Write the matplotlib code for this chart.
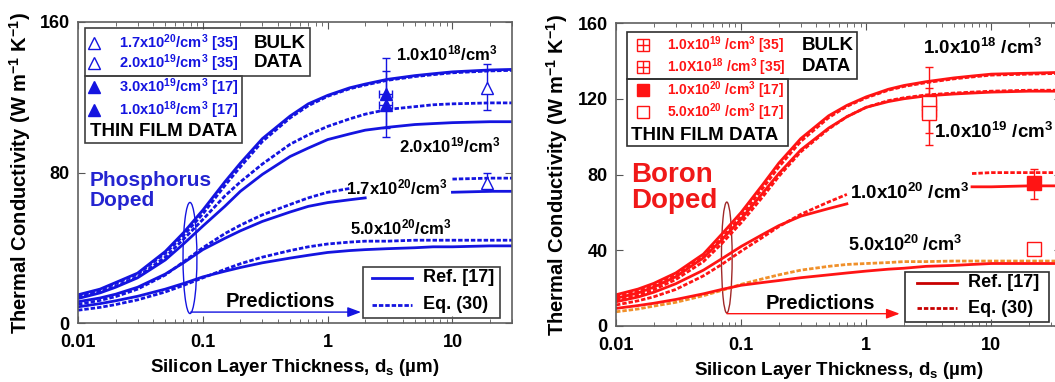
import numpy as np
import matplotlib.pyplot as plt
from matplotlib.patches import Rectangle, Ellipse
from matplotlib.lines import Line2D

plt.rcParams['font.family'] = ['Liberation Sans', 'DejaVu Sans']
plt.rcParams['font.weight'] = 'bold'
plt.rcParams['axes.labelweight'] = 'bold'
plt.rcParams['mathtext.fontset'] = 'custom'
plt.rcParams['mathtext.bf'] = 'Liberation Sans:bold'
plt.rcParams['mathtext.rm'] = 'Liberation Sans:bold'
plt.rcParams['mathtext.default'] = 'bf'

nan = np.nan
# thickness grid (um)
xs = [0.01, 0.015, 0.02, 0.03, 0.05, 0.07, 0.1, 0.15, 0.2, 0.3, 0.5, 0.7,
      1, 1.5, 2, 3, 5, 7, 10, 20, 40]

# Phosphorus doped curves (W/m/K)
p18_ref = [15, 18, 21.5, 26.5, 38, 48, 60, 75, 85, 98, 110, 116.5, 121, 125, 127, 129.5, 131.5, 132.5, 133.5, 134.5, 135]
p18_eq = [14.5, 17.5, 21, 26, 37, 46.5, 58, 73, 83, 96.5, 109, 115.5, 120.5, 124.5, 126.5, 129, 131, 132, 133, 134, 134.5]
p19_eq = [13.5, 16.5, 19.5, 24.5, 35, 44.5, 55, 67.5, 75, 84.5, 95, 100, 104.5, 108.5, 111, 113.5, 115, 116, 116.5, 117, 117]
p19_ref = [13, 16, 19, 24, 33.5, 42, 51.5, 62, 70, 79, 88.5, 93, 97.5, 100.5, 102.5, 104, 105.5, 106, 106.5, 107, 107]
p170_eq = [10, 12, 14, 18, 25.5, 32.5, 40, 47.5, 52, 57.5, 63, 66.5, 69.5, 71.5, nan, nan, nan, nan, 76.5, 77, 77]
p170_ref = [11.3, 13.3, 15.3, 19, 26, 32, 39, 45, 49, 54, 59, 62, 64, 65.5, 66.5, nan, nan, nan, 69.5, 70, 70]
p500_ref = [8.6, 10.3, 11.8, 14.2, 18, 21, 24.5, 27.5, 29.5, 32, 34.5, 36, 37.5, 38.5, 39, 39.5, 40, 40.5, 40.5, 41, 41]
p500_eq = [6.8, 8.3, 9.8, 12.3, 16.5, 20, 24, 28.5, 31.5, 35, 38.5, 40.5, 42, 43, 43.5, 43.5, 44, 44, 44, 44, 44]

# Boron doped curves
b18_ref = [16.5, 19.5, 22.5, 28, 38, 48.5, 60, 75, 86, 99, 111, 116.5, 121, 125, 127, 129, 131, 132, 133, 133.5, 134]
b18_eq = [15.5, 18.5, 21.5, 27, 36.5, 46.5, 58, 73, 84, 97.5, 110, 116, 120.5, 124.5, 126.5, 128.5, 130.5, 131.5, 132.5, 133, 133.5]
b19_ref = [14.6, 17.5, 20.5, 26, 36, 45.5, 56.5, 70.5, 80.5, 93, 104.5, 110.5, 115.5, 118.5, 120, 121.5, 122.5, 123, 123.5, 124, 124]
b19_eq = [13.5, 16.3, 19.2, 24.5, 34, 43.5, 54.5, 68.5, 79, 92, 104, 110.5, 115.5, 119, 120.5, 122, 123, 123.5, 124, 124.5, 124.5]
b20_ref = [12.8, 15.3, 17.8, 22.3, 29.5, 35.5, 42, 48.5, 53, 58, 62, 64.5, nan, nan, nan, nan, nan, 73.5, 73.5, 74, 74]
b20_eq = [11.1, 13.3, 15.4, 19.3, 26.5, 32.5, 39.5, 47, 52.5, 59, 65.5, 69.5, nan, nan, nan, nan, nan, 80.5, 81, 81, 81]
b500_ref = [9.3, 10.8, 12, 14, 17, 19.3, 21.5, 23, 24, 25.5, 27, 28, 29, 30, 30.5, 31.5, 32, 32.5, 33, 33, 33]
b500_eq = [7.5, 9, 10.5, 12.5, 16, 18.8, 22, 25, 27, 29.5, 31.5, 32.5, 33, 33.5, 34, 34, 34.3, 34.3, 34.3, 34.3, 34.3]

# measured points
p_film_x = [2.95, 2.95]
p_film_y = [121.8, 116]
p_film_err = [[18.3, 17.3], [19.2, 17.7]]
p_bulk_x = [19, 19]
p_bulk_y = [124.8, 74.3]
p_bulk_err = [[11.8, 4.1], [13, 5.7]]
b_bulk_x = [3.2, 3.2]
b_bulk_y = [118, 112.4]
b_bulk_err = [[16, 17], [19, 13.2]]
b_film_x = [22, 22]
b_film_y = [75.5, 40.6]
b_film_err = [[8.5, 0], [7.3, 0]]

p_legend = [r"1.7x10$^{20}$/cm$^3$ [35]", r"2.0x10$^{19}$/cm$^3$ [35]",
            r"3.0x10$^{19}$/cm$^3$ [17]", r"1.0x10$^{18}$/cm$^3$ [17]"]
b_legend = [r"1.0x10$^{19}$ /cm$^3$ [35]", r"1.0X10$^{18}$ /cm$^3$ [35]",
            r"1.0x10$^{20}$ /cm$^3$ [17]", r"5.0x10$^{20}$ /cm$^3$ [17]"]

blue = '#1414e0'
red = '#ff1414'
dred = '#c80000'
orange = '#f0902a'
dash = (0, (1.6, 0.7))

fig = plt.figure(figsize=(10.55, 3.82), dpi=100)
ax1 = fig.add_axes([78 / 1055, 59 / 382, 434 / 1055, 301 / 382])
ax2 = fig.add_axes([616 / 1055, 56 / 382, 445 / 1055, 303 / 382])


def style_axes(ax, xmax, yticks):
    ax.set_xscale('log')
    ax.set_xlim(0.01, xmax)
    ax.set_ylim(0, 160)
    ax.set_yticks(yticks)
    ax.set_xticks([0.01, 0.1, 1, 10])
    ax.set_xticklabels(['0.01', '0.1', '1', '10'])
    ax.tick_params(which='both', direction='in', top=True, right=True,
                   labelsize=13, colors='#555555', labelcolor='black')
    ax.tick_params(axis='x', pad=8)
    ax.tick_params(axis='y', pad=6)
    ax.tick_params(which='major', length=5)
    ax.tick_params(which='minor', length=3)
    for s in ax.spines.values():
        s.set_color('#606060')
        s.set_linewidth(1.2)
    ax.set_xlabel(r"Silicon Layer Thickness, d$_{\mathbf{s}}$ (µm)", fontsize=13.5)
    ax.set_ylabel(r"Thermal Conductivity (W m$^{\mathbf{-1}}$ K$^{\mathbf{-1}}$)", fontsize=14.5)
    ax.xaxis.set_label_coords(0.5, -0.112)
    ax.yaxis.set_label_coords(-0.104, 0.5)


# ---- Phosphorus panel
ax = ax1
style_axes(ax, 30, [0, 80, 160])
for ys, ls in [(p18_ref, '-'), (p18_eq, dash), (p19_eq, dash), (p19_ref, '-'),
               (p170_eq, dash), (p170_ref, '-'), (p500_ref, '-'), (p500_eq, dash)]:
    ax.plot(xs, ys, color=blue, lw=2, linestyle=ls)
ax.errorbar(p_film_x, p_film_y, yerr=p_film_err, xerr=0.35, fmt='^', ms=9,
            color=blue, mfc=blue, ecolor=blue, elinewidth=1, capsize=3)
ax.errorbar(p_bulk_x, p_bulk_y, yerr=p_bulk_err, fmt='^', ms=9,
            color=blue, mfc='white', ecolor=blue, elinewidth=1, capsize=3)

ax.text(3.5, 143.5, r"1.0x10$^{18}$/cm$^3$", fontsize=12, va='center')
ax.text(3.7, 94.6, r"2.0x10$^{19}$/cm$^3$", fontsize=12, va='center')
ax.text(1.4, 71.8, r"1.7x10$^{20}$/cm$^3$", fontsize=12, va='center')
ax.text(1.5, 51, r"5.0x10$^{20}$/cm$^3$", fontsize=12, va='center')
ax.text(0.0125, 70.5, "Phosphorus\nDoped", fontsize=15, color='#2424d0',
        va='center', linespacing=1.1)
ax.text(0.153, 11.5, "Predictions", fontsize=14.5, va='center')
ax.add_patch(Ellipse((0.258, 0.216), 0.032, 0.369, transform=ax.transAxes,
                     fill=False, ec=blue, lw=1))
ax.annotate('', xy=(1.85, 5.8), xytext=(0.08, 5.8),
            arrowprops=dict(arrowstyle='-|>,head_length=0.8,head_width=0.3',
                            color=blue, lw=1, shrinkA=0, shrinkB=0))

# top-left data key
ax.add_patch(Rectangle((0.016, 0.821), 0.519, 0.159, transform=ax.transAxes,
                       fill=False, ec='#404040', lw=1.2, zorder=5))
ax.add_patch(Rectangle((0.016, 0.598), 0.362, 0.223, transform=ax.transAxes,
                       fill=False, ec='#404040', lw=1.2, zorder=5))
rows = [0.930, 0.864, 0.784, 0.708]
for i, (lab, yy) in enumerate(zip(p_legend, rows)):
    ax.plot([0.037], [yy], marker='^', ms=8, color=blue,
            mfc='white' if i < 2 else blue, transform=ax.transAxes, clip_on=False)
    ax.text(0.094, yy, lab, fontsize=10.5, color=blue, va='center', transform=ax.transAxes)
ax.text(0.405, 0.930, "BULK", fontsize=13.5, va='center', transform=ax.transAxes)
ax.text(0.405, 0.864, "DATA", fontsize=13.5, va='center', transform=ax.transAxes)
ax.text(0.028, 0.635, "THIN FILM DATA", fontsize=13.5, va='center', transform=ax.transAxes)

# bottom-right line key
ax.add_patch(Rectangle((0.657, 0.017), 0.315, 0.169, transform=ax.transAxes,
                       fill=False, ec='#404040', lw=1.2))
ax.add_line(Line2D([0.677, 0.770], [0.150, 0.150], color=blue, lw=2, transform=ax.transAxes))
ax.add_line(Line2D([0.677, 0.770], [0.060, 0.060], color=blue, lw=2, linestyle=dash,
                   transform=ax.transAxes))
ax.text(0.795, 0.150, "Ref. [17]", fontsize=13, va='center', transform=ax.transAxes)
ax.text(0.795, 0.060, "Eq. (30)", fontsize=13, va='center', transform=ax.transAxes)

# ---- Boron panel
ax = ax2
style_axes(ax, 36, [0, 40, 80, 120, 160])
for ys, ls, c in [(b18_ref, '-', red), (b18_eq, dash, red), (b19_ref, '-', red),
                  (b19_eq, dash, red), (b20_ref, '-', red), (b20_eq, dash, red),
                  (b500_eq, dash, orange), (b500_ref, '-', red)]:
    ax.plot(xs, ys, color=c, lw=2, linestyle=ls)
ax.errorbar(b_bulk_x, b_bulk_y, yerr=b_bulk_err, xerr=0.4, fmt='s', ms=10,
            color=red, mfc='white', ecolor=red, elinewidth=1, capsize=3)
ax.plot(b_bulk_x, b_bulk_y, '+', ms=10, color=red, mew=1)
ax.errorbar(b_film_x[:1], b_film_y[:1], yerr=[b_film_err[0][:1], b_film_err[1][:1]],
            fmt='s', ms=10, color=red, mfc=red, ecolor=red, elinewidth=1, capsize=3)
ax.plot(b_film_x[1:], b_film_y[1:], 's', ms=10, color=red, mfc='white')

ax.text(2.85, 146.8, r"1.0x10$^{18}$ /cm$^3$", fontsize=13.5, va='center')
ax.text(3.45, 102.4, r"1.0x10$^{19}$ /cm$^3$", fontsize=13.5, va='center')
ax.text(0.74, 70.2, r"1.0x10$^{20}$ /cm$^3$", fontsize=13.5, va='center')
ax.text(0.72, 42.8, r"5.0x10$^{20}$ /cm$^3$", fontsize=13, va='center')
ax.text(0.0132, 73, "Boron\nDoped", fontsize=20, color='#f01818',
        va='center', linespacing=1.0)
ax.text(0.158, 12.1, "Predictions", fontsize=14.5, va='center')
ax.add_patch(Ellipse((0.249, 0.226), 0.024, 0.366, transform=ax.transAxes,
                     fill=False, ec='#a02828', lw=1))
ax.annotate('', xy=(1.85, 6.5), xytext=(0.077, 6.5),
            arrowprops=dict(arrowstyle='-|>,head_length=0.8,head_width=0.3',
                            color=red, lw=1, shrinkA=0, shrinkB=0))

ax.add_patch(Rectangle((0.025, 0.815), 0.517, 0.155, transform=ax.transAxes,
                       fill=False, ec='#303030', lw=1.2, zorder=5))
ax.add_patch(Rectangle((0.025, 0.594), 0.362, 0.221, transform=ax.transAxes,
                       fill=False, ec='#303030', lw=1.2, zorder=5))
rows = [0.927, 0.855, 0.779, 0.706]
for i, (lab, yy) in enumerate(zip(b_legend, rows)):
    ax.plot([0.061], [yy], marker='s', ms=8, color=red,
            mfc=red if i == 2 else 'white', transform=ax.transAxes, clip_on=False)
    if i < 2:
        ax.plot([0.061], [yy], marker='+', ms=8, color=red, mew=1,
                transform=ax.transAxes, clip_on=False)
    ax.text(0.115, yy, lab, fontsize=10, color=red, va='center', transform=ax.transAxes)
ax.text(0.418, 0.927, "BULK", fontsize=13.5, va='center', transform=ax.transAxes)
ax.text(0.418, 0.855, "DATA", fontsize=13.5, va='center', transform=ax.transAxes)
ax.text(0.033, 0.630, "THIN FILM DATA", fontsize=13.5, va='center', transform=ax.transAxes)

ax.add_patch(Rectangle((0.649, 0.013), 0.324, 0.165, transform=ax.transAxes,
                       fill=False, ec='#303030', lw=1.2))
ax.add_line(Line2D([0.676, 0.766], [0.142, 0.142], color=dred, lw=2, transform=ax.transAxes))
ax.add_line(Line2D([0.676, 0.766], [0.059, 0.059], color=dred, lw=2, linestyle=dash,
                   transform=ax.transAxes))
ax.text(0.791, 0.142, "Ref. [17]", fontsize=13, va='center', transform=ax.transAxes)
ax.text(0.791, 0.059, "Eq. (30)", fontsize=13, va='center', transform=ax.transAxes)

fig.savefig('out.png', dpi=100)
